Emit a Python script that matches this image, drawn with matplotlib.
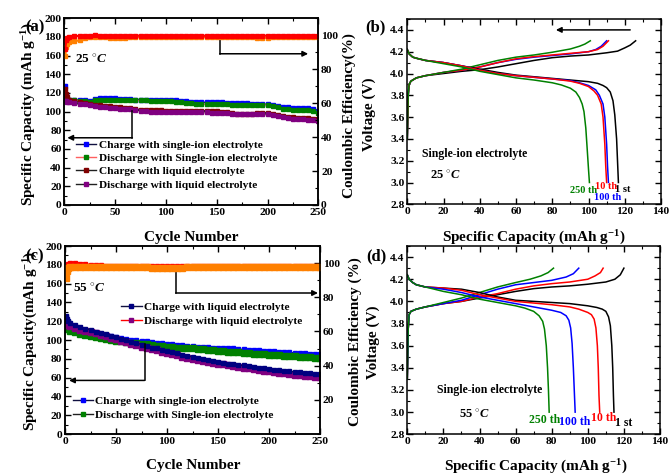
import matplotlib

matplotlib.use("Agg")
import matplotlib.pyplot as plt
from matplotlib.ticker import MultipleLocator

plt.rcParams["font.family"] = ["Liberation Serif", "DejaVu Serif"]
plt.rcParams["font.weight"] = "bold"
plt.rcParams["axes.labelweight"] = "bold"
plt.rcParams["mathtext.fontset"] = "custom"
plt.rcParams["mathtext.rm"] = "Liberation Serif:bold"
plt.rcParams["mathtext.it"] = "Liberation Serif:italic:bold"
plt.rcParams["mathtext.bf"] = "Liberation Serif:bold"
plt.rcParams["axes.linewidth"] = 1.1

W, H = 669, 476

# ---- cycling data (cycle number) ----
cycles = [1, 2, 3, 5, 10, 15, 20, 25, 30, 35,
          40, 45, 50, 55, 60, 65, 70, 75, 80, 85,
          90, 95, 100, 105, 110, 115, 120, 125, 130, 135,
          140, 145, 150, 155, 160, 165, 170, 175, 180, 185,
          190, 195, 200, 205, 210, 215, 220, 225, 230, 235,
          240, 245, 250]

# (a) 25 C
a_chg_single = [127, 118, 114, 113, 113, 112, 112, 111, 114, 115,
                115, 115, 115, 114, 114, 114, 113, 113, 113, 113,
                113, 113, 113, 112, 112, 111, 111, 110, 110, 110,
                110, 110, 110, 110, 109, 109, 109, 109, 109, 108,
                108, 108, 108, 107, 106, 105, 105, 104, 104, 104,
                104, 103, 101]
a_dis_single = [115, 114, 113, 112, 112, 111, 111, 110, 112, 113,
                113, 113, 113, 112, 112, 112, 112, 112, 112, 111,
                111, 111, 111, 111, 110, 110, 109, 109, 108, 108,
                108, 108, 108, 108, 108, 107, 107, 107, 107, 107,
                107, 107, 107, 106, 105, 103, 103, 102, 102, 102,
                102, 101, 99]
a_chg_liquid = [124, 119, 116, 113, 111, 110, 109, 108, 107, 107,
                106, 106, 105, 105, 104, 104, 103, 102, 102, 102,
                102, 102, 101, 101, 101, 101, 101, 101, 101, 101,
                101, 101, 101, 100, 100, 99, 98, 98, 98, 98,
                99, 99, 99, 97, 96, 95, 94, 94, 93, 93,
                93, 92, 92]
a_dis_liquid = [111, 111, 110, 110, 109, 108, 108, 107, 106, 105,
                105, 104, 104, 103, 103, 103, 102, 101, 101, 100,
                100, 100, 100, 100, 100, 100, 100, 100, 100, 100,
                100, 99, 99, 99, 99, 98, 97, 97, 97, 97,
                97, 97, 98, 96, 95, 94, 93, 92, 92, 92,
                91, 91, 90]
a_ce_red = [92.0, 97.0, 98.5, 99.2, 99.5, 99.6, 99.7, 99.8, 99.9, 99.8,
            99.8, 99.8, 99.7, 99.8, 99.8, 99.7, 99.8, 99.8, 99.7, 99.8,
            99.8, 99.8, 99.7, 99.8, 99.8, 99.8, 99.7, 99.8, 99.8, 99.8,
            99.7, 99.8, 99.8, 99.8, 99.7, 99.8, 99.8, 99.8, 99.7, 99.8,
            99.8, 99.7, 99.8, 99.8, 99.8, 99.7, 99.8, 99.8, 99.8, 99.7,
            99.8, 99.8, 99.8]
a_ce_orange = [88.0, 93.0, 95.0, 96.0, 96.5, 97.0, 98.5, 99.0, 99.2, 99.0,
               99.0, 98.5, 98.3, 98.4, 98.6, 99.0, 99.0, 99.1, 99.0, 99.1,
               99.0, 99.0, 99.1, 99.0, 99.0, 99.1, 99.0, 99.1, 99.0, 99.1,
               99.0, 99.0, 99.0, 99.0, 99.1, 99.0, 99.0, 99.0, 99.0, 98.8,
               98.6, 98.6, 98.4, 98.9, 99.0, 99.1, 99.0, 99.0, 99.1, 99.0,
               99.0, 99.1, 99.0]

# (c) 55 C
c_chg_liquid = [126, 122, 120, 118, 116, 114, 112, 111, 109, 107,
                106, 104, 103, 101, 100, 98, 97, 95, 94, 92,
                91, 89, 88, 87, 86, 84, 83, 82, 81, 80,
                79, 78, 77, 76, 75, 74, 73, 73, 72, 71,
                70, 70, 69, 68, 68, 67, 67, 66, 66, 65,
                65, 64, 64]
c_dis_liquid = [118, 117, 116, 115, 113, 111, 110, 108, 107, 105,
                104, 102, 101, 99, 98, 96, 95, 93, 92, 90,
                89, 87, 86, 85, 84, 82, 81, 80, 79, 78,
                77, 76, 75, 74, 73, 72, 71, 70, 70, 69,
                68, 67, 67, 66, 65, 65, 64, 63, 63, 62,
                62, 61, 61]
c_chg_single = [125, 120, 117, 115, 113, 111, 109, 108, 107, 106,
                105, 104, 103, 102, 101, 100, 100, 99, 99, 98,
                97, 97, 96, 96, 95, 95, 94, 94, 93, 93,
                93, 92, 92, 91, 91, 91, 90, 90, 89, 89,
                89, 88, 88, 88, 87, 87, 87, 86, 86, 86,
                85, 85, 85]
c_dis_single = [117, 114, 112, 110, 108, 106, 105, 104, 103, 102,
                101, 100, 99, 99, 98, 97, 97, 96, 96, 95,
                94, 94, 93, 93, 92, 92, 91, 91, 90, 90,
                89, 89, 88, 88, 87, 87, 87, 86, 86, 85,
                85, 85, 84, 84, 84, 83, 83, 83, 82, 82,
                82, 81, 81]
c_ce_red = [95.0, 98.0, 99.5, 99.8, 99.8, 99.5, 99.3, 99.0, 98.8, 98.6,
            98.5, 98.5, 98.5, 98.4, 98.4, 98.4, 98.4, 98.3, 98.3, 98.3,
            98.3, 98.3, 98.2, 98.2, 98.2, 98.3, 98.3, 98.3, 98.3, 98.3,
            98.3, 98.3, 98.3, 98.3, 98.3, 98.3, 98.3, 98.3, 98.3, 98.3,
            98.3, 98.3, 98.3, 98.3, 98.3, 98.3, 98.3, 98.3, 98.3, 98.3,
            98.3, 98.3, 98.3]
c_ce_orange = [91.0, 95.5, 97.0, 97.5, 97.6, 97.6, 97.6, 97.6, 97.5, 97.5,
               97.5, 97.5, 97.5, 97.5, 97.5, 97.5, 97.5, 97.5, 97.5, 97.4,
               97.3, 97.2, 97.1, 97.1, 97.2, 97.4, 97.5, 97.5, 97.5, 97.5,
               97.5, 97.5, 97.5, 97.5, 97.5, 97.5, 97.5, 97.5, 97.5, 97.5,
               97.5, 97.5, 97.5, 97.5, 97.5, 97.5, 97.5, 97.5, 97.5, 97.5,
               97.5, 97.5, 97.5]

# ---- voltage profiles (capacity mAh/g, voltage V) ----
# (b) 25 C
b_chg_1_q = [0, 0.5, 1, 2, 5, 10, 20, 30, 40, 50, 60, 70, 80, 90, 100, 110, 116, 120, 123, 126]
b_chg_1_v = [3.40, 3.80, 3.90, 3.93, 3.96, 3.98, 4.00, 4.02, 4.035, 4.06, 4.09, 4.12, 4.145, 4.16, 4.17, 4.19, 4.205, 4.235, 4.26, 4.30]
b_chg_10_q = [0, 0.5, 1, 2, 5, 10, 20, 30, 40, 50, 60, 70, 80, 90, 100, 105, 108, 111]
b_chg_10_v = [3.40, 3.80, 3.90, 3.93, 3.96, 3.98, 4.01, 4.03, 4.06, 4.10, 4.135, 4.155, 4.17, 4.185, 4.20, 4.22, 4.25, 4.30]
b_chg_100_q = [0, 0.5, 1, 2, 5, 10, 20, 30, 40, 50, 60, 70, 80, 90, 100, 104, 107, 110]
b_chg_100_v = [3.40, 3.80, 3.90, 3.93, 3.96, 3.98, 4.01, 4.03, 4.06, 4.10, 4.13, 4.15, 4.165, 4.18, 4.20, 4.22, 4.25, 4.30]
b_chg_250_q = [0, 0.5, 1, 2, 5, 10, 20, 30, 40, 50, 60, 70, 80, 90, 95, 98, 101]
b_chg_250_v = [3.40, 3.80, 3.90, 3.93, 3.96, 3.98, 4.01, 4.04, 4.08, 4.12, 4.15, 4.17, 4.195, 4.225, 4.25, 4.27, 4.30]

b_dis_1_q = [0, 1, 3, 5, 10, 20, 30, 40, 50, 60, 70, 80, 90, 100, 105, 108, 110, 112, 113.5, 114.5, 115.5, 116, 116.5]
b_dis_1_v = [4.22, 4.18, 4.15, 4.14, 4.12, 4.10, 4.07, 4.04, 4.01, 3.985, 3.97, 3.955, 3.94, 3.925, 3.91, 3.89, 3.87, 3.83, 3.75, 3.62, 3.40, 3.20, 3.00]
b_dis_10_q = [0, 1, 3, 5, 10, 20, 30, 40, 50, 60, 70, 80, 90, 95, 100, 103, 105, 107, 108, 109, 109.5, 110]
b_dis_10_v = [4.22, 4.18, 4.15, 4.14, 4.12, 4.10, 4.07, 4.03, 4.00, 3.98, 3.965, 3.95, 3.93, 3.91, 3.88, 3.84, 3.80, 3.72, 3.60, 3.35, 3.15, 3.00]
b_dis_100_q = [0, 1, 3, 5, 10, 20, 30, 40, 50, 60, 70, 80, 90, 95, 100, 104, 106, 108, 109, 110, 110.5, 111]
b_dis_100_v = [4.22, 4.18, 4.15, 4.14, 4.12, 4.10, 4.07, 4.03, 4.00, 3.98, 3.965, 3.95, 3.935, 3.915, 3.89, 3.85, 3.80, 3.72, 3.60, 3.35, 3.15, 3.00]
b_dis_250_q = [0, 1, 3, 5, 10, 20, 30, 40, 50, 60, 70, 80, 85, 90, 93, 95, 96.5, 97.5, 98.5, 99.3, 100, 100.5]
b_dis_250_v = [4.22, 4.18, 4.15, 4.14, 4.12, 4.09, 4.06, 4.02, 3.99, 3.96, 3.94, 3.915, 3.895, 3.865, 3.83, 3.78, 3.72, 3.65, 3.50, 3.30, 3.12, 3.00]

# (d) 55 C
d_chg_1_q = [0, 0.5, 1, 2, 5, 10, 20, 30, 40, 50, 60, 70, 80, 90, 100, 110, 115, 118, 120]
d_chg_1_v = [3.30, 3.75, 3.88, 3.91, 3.93, 3.95, 3.98, 4.00, 4.03, 4.06, 4.09, 4.115, 4.13, 4.14, 4.155, 4.175, 4.20, 4.24, 4.30]
d_chg_10_q = [0, 0.5, 1, 2, 5, 10, 20, 30, 40, 50, 60, 70, 80, 90, 100, 104, 107, 108.5]
d_chg_10_v = [3.30, 3.75, 3.88, 3.91, 3.93, 3.95, 3.98, 4.00, 4.04, 4.07, 4.11, 4.14, 4.16, 4.175, 4.20, 4.23, 4.26, 4.30]
d_chg_100_q = [0, 0.5, 1, 2, 5, 10, 20, 30, 40, 50, 60, 70, 80, 88, 92, 95]
d_chg_100_v = [3.30, 3.75, 3.88, 3.91, 3.93, 3.95, 3.98, 4.01, 4.06, 4.11, 4.15, 4.17, 4.19, 4.22, 4.25, 4.30]
d_chg_250_q = [0, 0.5, 1, 2, 5, 10, 20, 30, 40, 50, 60, 68, 74, 78, 81]
d_chg_250_v = [3.30, 3.75, 3.88, 3.91, 3.93, 3.95, 3.99, 4.03, 4.08, 4.13, 4.17, 4.20, 4.23, 4.26, 4.30]

d_dis_1_q = [0, 1, 3, 5, 10, 20, 30, 40, 50, 60, 70, 80, 90, 100, 105, 108, 110, 111.5, 112.5, 113.3, 113.8, 114.2, 114.5]
d_dis_1_v = [4.24, 4.20, 4.17, 4.15, 4.13, 4.12, 4.11, 4.08, 4.04, 4.01, 4.00, 3.99, 3.98, 3.96, 3.945, 3.93, 3.91, 3.86, 3.78, 3.60, 3.40, 3.15, 3.00]
d_dis_10_q = [0, 1, 3, 5, 10, 20, 30, 40, 50, 60, 70, 80, 90, 95, 100, 102, 103.5, 104.5, 105.3, 105.8, 106.2, 106.6]
d_dis_10_v = [4.24, 4.20, 4.17, 4.15, 4.13, 4.12, 4.10, 4.06, 4.03, 4.00, 3.985, 3.97, 3.95, 3.93, 3.90, 3.88, 3.84, 3.76, 3.60, 3.40, 3.15, 3.00]
d_dis_100_q = [0, 1, 3, 5, 10, 20, 30, 40, 50, 60, 70, 80, 85, 88, 89.5, 90.5, 91.3, 92, 92.5, 93]
d_dis_100_v = [4.24, 4.20, 4.17, 4.15, 4.13, 4.11, 4.08, 4.04, 4.01, 3.98, 3.95, 3.92, 3.90, 3.87, 3.83, 3.76, 3.62, 3.40, 3.20, 3.00]
d_dis_250_q = [0, 1, 3, 5, 10, 20, 30, 40, 50, 60, 65, 70, 73, 75, 76, 77, 77.7, 78.2, 78.6]
d_dis_250_v = [4.24, 4.20, 4.17, 4.15, 4.13, 4.09, 4.06, 4.02, 3.99, 3.96, 3.94, 3.91, 3.87, 3.82, 3.75, 3.60, 3.40, 3.20, 3.00]

BLUE = "#0000ff"
GREEN = "#008000"
DRED = "#800000"
PURPLE = "#800080"
NAVY = "#000080"
RED = "#ff0000"
ORANGE = "#ff8000"


def px_axes(fig, left, top, right, bottom):
    return fig.add_axes([left / W, 1 - bottom / H, (right - left) / W, (bottom - top) / H])


def style_ticks(ax, right=True):
    ax.tick_params(which="both", direction="in", top=True, right=right, labelsize=8.2, pad=2)
    ax.tick_params(which="major", length=4, width=1)
    ax.tick_params(which="minor", length=2, width=0.8)


def elbow_arrow(ax, p0, p1, p2):
    ax.plot([p0[0], p1[0]], [p0[1], p1[1]], color="k", lw=1.1, zorder=6)
    ax.annotate("", xy=p2, xytext=p1,
                arrowprops=dict(arrowstyle="-|>", color="k", lw=1.1,
                                mutation_scale=8, shrinkA=0, shrinkB=0), zorder=6)


fig = plt.figure(figsize=(W / 100, H / 100), dpi=100)

ms = 3.2
lab_fs = 11
leg_fs = 8.2
leg_kw = dict(loc="upper left", frameon=False, fontsize=leg_fs, handlelength=1.8,
              handletextpad=0.2, labelspacing=0.3, borderpad=0, borderaxespad=0,
              markerscale=0.9)

# ---------- (a) ----------
ax_a = px_axes(fig, 64.3, 18.3, 318.3, 205)
ax_a2 = ax_a.twinx()
ax_a.plot(cycles, a_chg_single, "-s", color="#101040", mfc=BLUE, mec=BLUE, ms=ms, lw=1,
          label="Charge with single-ion electrolyte")
ax_a.plot(cycles, a_dis_single, "-s", color="#ff6060", mfc=GREEN, mec=GREEN, ms=ms, lw=1,
          label="Discharge with Single-ion electrolyte")
ax_a.plot(cycles, a_chg_liquid, "-s", color="#202020", mfc=DRED, mec=DRED, ms=ms, lw=1,
          label="Charge with liquid electrolyte")
ax_a.plot(cycles, a_dis_liquid, "-s", color="#202020", mfc=PURPLE, mec=PURPLE, ms=ms, lw=1,
          label="Discharge with liquid electrolyte")
ax_a2.plot(cycles, a_ce_orange, "-s", color=ORANGE, ms=ms, lw=1.5)
ax_a2.plot(cycles, a_ce_red, "-s", color=RED, ms=ms, lw=1.5)
ax_a.set_xlim(0, 250)
ax_a.set_ylim(0, 200)
ax_a2.set_ylim(0, 110)
ax_a.xaxis.set_major_locator(MultipleLocator(50))
ax_a.xaxis.set_minor_locator(MultipleLocator(25))
ax_a.yaxis.set_major_locator(MultipleLocator(20))
ax_a.yaxis.set_minor_locator(MultipleLocator(10))
ax_a2.yaxis.set_major_locator(MultipleLocator(20))
ax_a2.yaxis.set_minor_locator(MultipleLocator(10))
style_ticks(ax_a, right=False)
style_ticks(ax_a2)
ax_a.legend(bbox_to_anchor=(0.045, 0.35), **leg_kw)
elbow_arrow(ax_a, (153, 181), (153, 162), (240, 162))
elbow_arrow(ax_a, (67, 101), (67, 72), (3, 72))
ax_a.text(11, 152, r"25 $^{\circ}\mathit{C}$", fontsize=9.5)

# ---------- (b) ----------
ax_b = px_axes(fig, 407.3, 19, 661, 204.3)
for q, v, c in [(b_chg_1_q, b_chg_1_v, "k"), (b_chg_100_q, b_chg_100_v, BLUE),
                (b_chg_10_q, b_chg_10_v, RED), (b_chg_250_q, b_chg_250_v, GREEN),
                (b_dis_1_q, b_dis_1_v, "k"), (b_dis_100_q, b_dis_100_v, BLUE),
                (b_dis_10_q, b_dis_10_v, RED), (b_dis_250_q, b_dis_250_v, GREEN)]:
    ax_b.plot(q, v, color=c, lw=1.1)
ax_b.set_xlim(0, 140)
ax_b.set_ylim(2.8, 4.5)
ax_b.xaxis.set_major_locator(MultipleLocator(20))
ax_b.xaxis.set_minor_locator(MultipleLocator(10))
ax_b.yaxis.set_major_locator(MultipleLocator(0.2))
ax_b.yaxis.set_minor_locator(MultipleLocator(0.1))
style_ticks(ax_b)
ax_b.annotate("", xy=(82, 4.4), xytext=(123, 4.4),
              arrowprops=dict(arrowstyle="-|>", color="k", lw=1.1, mutation_scale=8,
                              shrinkA=0, shrinkB=0))
ax_b.text(8, 3.26, "Single-ion electrolyte", fontsize=8.5, va="center")
ax_b.text(12.5, 3.07, r"25 $^{\circ}\mathit{C}$", fontsize=9, va="center")
ax_b.text(90, 2.93, "250 th", color=GREEN, fontsize=7.5, va="center")
ax_b.text(103.5, 2.965, "10 th", color=RED, fontsize=7.5, va="center")
ax_b.text(114.5, 2.94, "1 st", color="k", fontsize=7.5, va="center")
ax_b.text(103, 2.86, "100 th", color=BLUE, fontsize=7.5, va="center")

# ---------- (c) ----------
ax_c = px_axes(fig, 65, 246, 320, 434)
ax_c2 = ax_c.twinx()
l1 = ax_c.plot(cycles, c_chg_single, "-s", color="#101040", mfc=BLUE, mec=BLUE, ms=ms, lw=1,
               label="Charge with single-ion electrolyte")[0]
l2 = ax_c.plot(cycles, c_dis_single, "-s", color="#202020", mfc=GREEN, mec=GREEN, ms=ms + 0.6, lw=1,
               label="Discharge with Single-ion electrolyte")[0]
l4 = ax_c.plot(cycles, c_dis_liquid, "-s", color=RED, mfc=PURPLE, mec=PURPLE, ms=ms + 0.6, lw=1,
               label="Discharge with liquid electrolyte")[0]
l3 = ax_c.plot(cycles, c_chg_liquid, "-s", color="#101040", mfc=NAVY, mec=NAVY, ms=2.2, lw=1,
               label="Charge with liquid electrolyte")[0]
ax_c2.plot(cycles, c_ce_red, "-s", color=RED, ms=ms, lw=1.5)
ax_c2.plot(cycles, c_ce_orange, "-s", color=ORANGE, ms=ms + 1, lw=1.5)
ax_c.set_xlim(0, 250)
ax_c.set_ylim(0, 200)
ax_c2.set_ylim(0, 110)
ax_c.xaxis.set_major_locator(MultipleLocator(50))
ax_c.xaxis.set_minor_locator(MultipleLocator(25))
ax_c.yaxis.set_major_locator(MultipleLocator(20))
ax_c.yaxis.set_minor_locator(MultipleLocator(10))
ax_c2.set_yticks([20, 40, 60, 80, 100])
ax_c2.yaxis.set_minor_locator(MultipleLocator(10))
style_ticks(ax_c, right=False)
style_ticks(ax_c2)
leg1 = ax_c.legend(handles=[l3, l4], bbox_to_anchor=(0.22, 0.70), **leg_kw)
for h in leg1.legend_handles:
    h.set_markersize(ms)
ax_c.add_artist(leg1)
leg2 = ax_c.legend(handles=[l1, l2], bbox_to_anchor=(0.03, 0.20), **leg_kw)
for h in leg2.legend_handles:
    h.set_markersize(ms)
elbow_arrow(ax_c, (108.5, 176), (108.5, 150), (248, 150))
elbow_arrow(ax_c, (78, 96), (78, 57), (4, 57))
ax_c.text(7.5, 155, r"55 $^{\circ}\mathit{C}$", fontsize=9.5, va="center")

# ---------- (d) ----------
ax_d = px_axes(fig, 407.3, 246, 660, 434.3)
for q, v, c in [(d_chg_1_q, d_chg_1_v, "k"), (d_chg_10_q, d_chg_10_v, RED),
                (d_chg_100_q, d_chg_100_v, BLUE), (d_chg_250_q, d_chg_250_v, GREEN),
                (d_dis_1_q, d_dis_1_v, "k"), (d_dis_10_q, d_dis_10_v, RED),
                (d_dis_100_q, d_dis_100_v, BLUE), (d_dis_250_q, d_dis_250_v, GREEN)]:
    ax_d.plot(q, v, color=c, lw=1.1)
ax_d.set_xlim(0, 140)
ax_d.set_ylim(2.8, 4.5)
ax_d.xaxis.set_major_locator(MultipleLocator(20))
ax_d.xaxis.set_minor_locator(MultipleLocator(10))
ax_d.yaxis.set_major_locator(MultipleLocator(0.2))
ax_d.yaxis.set_minor_locator(MultipleLocator(0.1))
style_ticks(ax_d)
ax_d.text(16.5, 3.2, "Single-ion electrolyte", fontsize=8.5, va="center")
ax_d.text(28.7, 2.98, r"55 $^{\circ}\mathit{C}$", fontsize=9, va="center")
ax_d.text(67.6, 2.93, "250 th", color=GREEN, fontsize=8.5, va="center")
ax_d.text(84.2, 2.915, "100 th", color=BLUE, fontsize=8.5, va="center")
ax_d.text(101.6, 2.945, "10 th", color=RED, fontsize=8.5, va="center")
ax_d.text(115, 2.905, "1 st", color="k", fontsize=8.5, va="center")

# ---------- labels ----------
def ftext(x, y, s, **kw):
    fig.text(x / W, 1 - y / H, s, ha="center", va="center", **kw)


ftext(29, 114, r"Specific Capacity (mAh g$^{-1}$)", rotation=90, fontsize=lab_fs)
ftext(349, 116, "Coulombic Efficiency(%)", rotation=90, fontsize=lab_fs)
ftext(369, 114, "Voltage (V)", rotation=90, fontsize=lab_fs)
ftext(191, 237, "Cycle Number", fontsize=lab_fs)
ftext(534, 238, r"Specific Capacity (mAh g$^{-1}$)", fontsize=lab_fs)

ftext(31, 341, r"Specific Capacity(mAh g$^{-1}$)", rotation=90, fontsize=lab_fs)
ftext(355, 342, "Coulombic Efficiency (%)", rotation=90, fontsize=lab_fs)
ftext(373, 342, "Voltage (V)", rotation=90, fontsize=lab_fs)
ftext(193, 465, "Cycle Number", fontsize=lab_fs)
ftext(536, 467, r"Specific Capacity (mAh g$^{-1}$)", fontsize=lab_fs)

ftext(35, 27, "(a)", fontsize=12)
ftext(375, 27, "(b)", fontsize=12)
ftext(35, 256, "(c)", fontsize=12)
ftext(376, 256, "(d)", fontsize=12)

fig.savefig("out.png", dpi=100)
plt.close(fig)
